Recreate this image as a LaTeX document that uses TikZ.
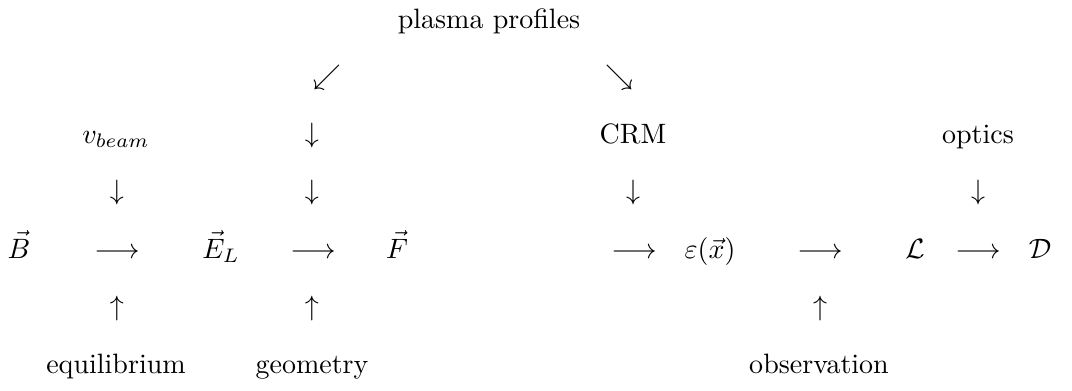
\documentclass[tikz,border=0pt]{standalone}
\usepackage{amsmath}
\begin{document}
\begin{tikzpicture}[x=0.357pt,y=-0.357pt,
  lbl/.style={inner sep=0pt,anchor=base},
  glyph/.style={inner sep=0pt,anchor=base}]
\useasboundingbox (0,0) rectangle (1072,390);
% row 1
\node[lbl] (pp) at (489,28) {plasma profiles};
% row 2
\node[glyph] (sw) at (327,84) {$\swarrow$};
\node[glyph] (se) at (619,84) {$\searrow$};
% row 3
\node[lbl] (vb) at (116,143) {$v_{beam}$};
\node[glyph] (d0) at (312,142) {$\downarrow$};
\node[lbl] (crm) at (633,143) {CRM};
\node[lbl] (opt) at (978,143) {optics};
% row 4
\node[glyph] (d1) at (117,199) {$\downarrow$};
\node[glyph] (d2) at (312,199) {$\downarrow$};
\node[glyph] (d3) at (633,199) {$\downarrow$};
\node[glyph] (d4) at (978,199) {$\downarrow$};
% row 5
\node[lbl] (B) at (19,258) {$\vec{B}$};
\node[glyph] (r1) at (117,258) {$\longrightarrow$};
\node[lbl] (EL) at (221,258) {$\vec{E}_L$};
\node[glyph] (r2) at (313,258) {$\longrightarrow$};
\node[lbl] (F) at (397,258) {$\vec{F}$};
\node[glyph] (r3) at (634,258) {$\longrightarrow$};
\node[lbl] (eps) at (710,258) {$\varepsilon(\vec{x})$};
\node[glyph] (r4) at (820,258) {$\longrightarrow$};
\node[lbl] (L) at (915,258) {$\mathcal{L}$};
\node[glyph] (r5) at (978,258) {$\longrightarrow$};
\node[lbl] (D) at (1040,258) {$\mathcal{D}$};
% row 6
\node[glyph] (u1) at (117,315) {$\uparrow$};
\node[glyph] (u2) at (312,315) {$\uparrow$};
\node[glyph] (u3) at (820,315) {$\uparrow$};
% row 7
\node[lbl] (eq) at (116,373) {equilibrium};
\node[lbl] (geo) at (312,373) {geometry};
\node[lbl] (obs) at (819,373) {observation};
\end{tikzpicture}
\end{document}
